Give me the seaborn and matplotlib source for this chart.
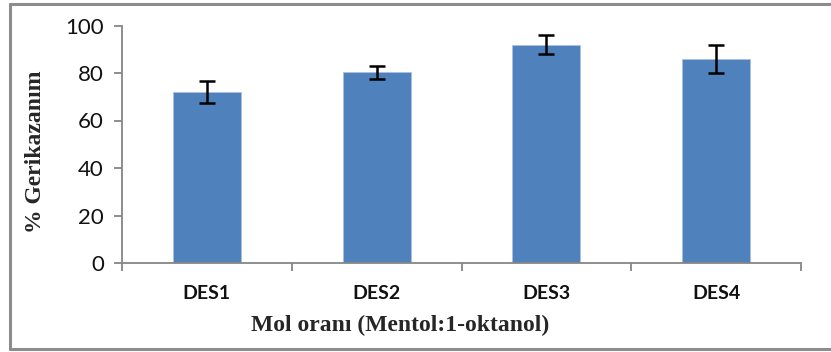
import matplotlib
matplotlib.use("Agg")
import matplotlib.pyplot as plt
from matplotlib.lines import Line2D
import seaborn as sns
import pandas as pd
import numpy as np

categories = ["DES1", "DES2", "DES3", "DES4"]
recovery = [72.0, 80.3, 92.0, 86.0]
errors = [4.5, 2.8, 4.2, 5.8]
y_ticks = [0, 20, 40, 60, 80, 100]
x_label = "Mol oranı (Mentol:1-oktanol)"
y_label = "% Gerikazanım"

sns.set_theme(style="white")
plt.rcParams['font.family'] = ['Lato', 'DejaVu Sans']

df = pd.DataFrame({"cat": categories, "val": recovery})

fig = plt.figure(figsize=(8.31, 3.52), dpi=100)
ax = fig.add_axes([122/831, 1-263/352, (801-122)/831, (263-25.5)/352])

sns.barplot(data=df, x="cat", y="val", color="#4F81BD", saturation=1,
            width=0.4, errorbar=None, edgecolor="#A9C0DE", linewidth=0.6, ax=ax)
ax.errorbar(x=np.arange(len(categories)), y=recovery, yerr=errors, fmt="none",
            ecolor="black", elinewidth=1.8, capsize=6, capthick=1.8, zorder=5)

ax.set_xlim(-0.5, len(categories) - 0.5)
ax.set_ylim(0, 100)
ax.set_yticks(y_ticks)
ax.set_xlabel("")
ax.set_ylabel("")

grey = "#868686"
for s in ["top", "right"]:
    ax.spines[s].set_visible(False)
for s in ["left", "bottom"]:
    ax.spines[s].set_color(grey)
    ax.spines[s].set_linewidth(1.3)

ax.tick_params(axis="y", which="major", direction="out", length=6, width=1.3,
               color=grey, labelsize=16, pad=7, left=True, labelcolor="#111111")
ax.set_xticks(np.arange(len(categories)))
ax.set_xticklabels(categories, fontweight="bold", fontsize=14)
ax.tick_params(axis="x", which="major", length=0, pad=16, labelcolor="#111111")
ax.set_xticks(np.arange(-0.5, len(categories)), minor=True)
ax.tick_params(axis="x", which="minor", direction="out", length=6, width=1.3,
               color=grey, bottom=True)

fig.text(400/831, 1-325/352, x_label, ha="center", va="center",
         fontsize=17, fontweight="bold", family=["Liberation Serif", "DejaVu Serif"])
fig.text(36/831, 1-152/352, y_label, ha="center", va="center", rotation=90,
         fontsize=17, fontweight="bold", family=["Liberation Serif", "DejaVu Serif"])

# outer frame (left, top, bottom)
bc = "#8C8C8C"
fig.add_artist(Line2D([10/831, 10/831], [1-349/352, 1-4/352], color=bc, lw=2.2,
                      transform=fig.transFigure))
fig.add_artist(Line2D([10/831, 1.0], [1-4/352, 1-4/352], color=bc, lw=2.2,
                      transform=fig.transFigure))
fig.add_artist(Line2D([10/831, 1.0], [1-349/352, 1-349/352], color=bc, lw=2.2,
                      transform=fig.transFigure))

fig.savefig("out.png", dpi=100, facecolor="white")
